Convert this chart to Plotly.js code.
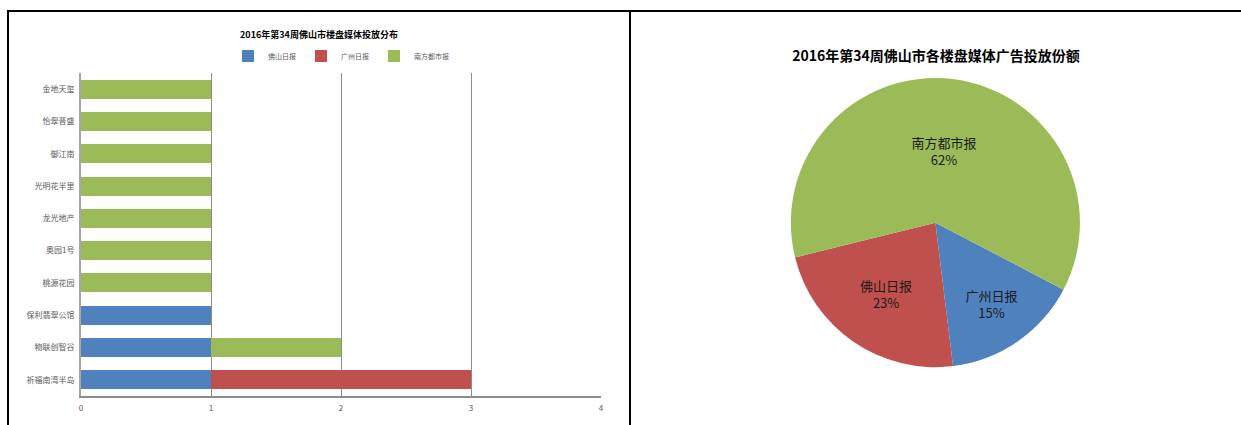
<!DOCTYPE html>
<html>
<head>
<meta charset="utf-8">
<script src="https://cdn.plot.ly/plotly-3.0.1.min.js"></script>
<style>
  html, body { margin: 0; padding: 0; background: #ffffff; width: 1241px; height: 425px; overflow: hidden; }
  #frameTop { position: absolute; left: 7px; top: 10px; width: 1234px; height: 2px; background: #000; }
  #frameLeft { position: absolute; left: 7px; top: 10px; width: 2px; height: 415px; background: #000; }
  #frameMid { position: absolute; left: 629px; top: 10px; width: 2px; height: 415px; background: #000; }
  #barChart { position: absolute; left: 9px; top: 12px; width: 620px; height: 413px; }
  #pieChart { position: absolute; left: 631px; top: 12px; width: 610px; height: 413px; }
</style>
</head>
<body>
<div id="frameTop"></div>
<div id="frameLeft"></div>
<div id="frameMid"></div>
<div id="barChart"></div>
<div id="pieChart"></div>
<script>
// ---- Data ----
const barTitle = "2016年第34周佛山市楼盘媒体投放分布";
const pieTitle = "2016年第34周佛山市各楼盘媒体广告投放份额";

// categories listed top to bottom
const projects = ["金地天玺", "怡翠晋盛", "御江南", "光明花半里", "龙光地产", "奥园1号", "桃源花园", "保利翡翠公馆", "物联创智谷", "祈福南湾半岛"];
const seriesNames = ["佛山日报", "广州日报", "南方都市报"];
const foshanDaily   = [0, 0, 0, 0, 0, 0, 0, 1, 1, 1];
const guangzhouDaily = [0, 0, 0, 0, 0, 0, 0, 0, 0, 2];
const nanfangDaily  = [1, 1, 1, 1, 1, 1, 1, 0, 1, 0];
const xTicks = [0, 1, 2, 3, 4];

const pieLabels = ["佛山日报", "广州日报", "南方都市报"];
const pieValues = [3, 2, 8];

// ---- Styles ----
const FONT = "'Noto Sans CJK SC', 'Noto Sans', sans-serif";
const BLUE = "#4F81BD", RED = "#C0504D", GREEN = "#9BBB59";

const barSeries = [foshanDaily, guangzhouDaily, nanfangDaily];
const barColors = [BLUE, RED, GREEN];
const barTraces = barSeries.map((vals, i) => ({
  type: "bar",
  orientation: "h",
  name: seriesNames[i],
  y: projects,
  x: vals,
  marker: { color: barColors[i], line: { width: 0 } },
  hoverinfo: "x+y+name"
}));

const barLayout = {
  width: 620, height: 413,
  margin: { l: 72, r: 28, t: 61, b: 29 },
  paper_bgcolor: "#ffffff", plot_bgcolor: "#ffffff",
  barmode: "stack",
  bargap: 0.41,
  font: { family: FONT, size: 8, color: "#595959" },
  title: {
    text: barTitle,
    font: { family: FONT, size: 9, color: "#000000", weight: "bold" },
    x: 0.5, xanchor: "center", xref: "container",
    y: 0.944, yanchor: "middle", yref: "container"
  },
  showlegend: true,
  legend: {
    orientation: "h", x: 0.5, xanchor: "center", y: 1.053, yanchor: "middle",
    traceorder: "normal",
    font: { family: FONT, size: 7, color: "#595959" },
    itemwidth: 30, itemsizing: "constant",
    tracegroupgap: 0
  },
  xaxis: {
    range: [0, 4], tickvals: xTicks, ticktext: xTicks.map(String),
    showgrid: true, gridcolor: "#8c8c8c", gridwidth: 1,
    zeroline: false, showline: true, linecolor: "#8c8c8c", linewidth: 1.5,
    ticks: "", ticklabelstandoff: 4, fixedrange: true,
    tickfont: { family: FONT, size: 8, color: "#595959" }
  },
  yaxis: {
    type: "category", categoryorder: "array", categoryarray: projects,
    autorange: "reversed",
    showgrid: false, zeroline: false, showline: true, linecolor: "#a6a6a6", linewidth: 2,
    ticks: "", ticklabelstandoff: 3, fixedrange: true,
    tickfont: { family: FONT, size: 8, color: "#595959" }
  }
};

Plotly.newPlot("barChart", barTraces, barLayout, { displayModeBar: false, staticPlot: true });

const pieTrace = {
  type: "pie",
  labels: pieLabels,
  values: pieValues,
  sort: false,
  direction: "counterclockwise",
  rotation: 173,
  marker: { colors: [RED, BLUE, GREEN], line: { width: 0 } },
  texttemplate: "%{label}<br>%{percent:.0%}",
  textposition: "inside",
  insidetextorientation: "horizontal",
  textfont: { family: FONT, size: 13, color: "#1a1a1a" },
  domain: { x: [0.262, 0.736], y: [0.14, 0.84] },
  showlegend: false,
  hoverinfo: "label+value+percent"
};

const pieLayout = {
  width: 610, height: 413,
  margin: { l: 0, r: 0, t: 0, b: 0 },
  paper_bgcolor: "#ffffff",
  font: { family: FONT, size: 13, color: "#000000" },
  title: {
    text: pieTitle,
    font: { family: FONT, size: 14, color: "#000000", weight: "bold" },
    x: 0.5, xanchor: "center", xref: "container",
    y: 0.893, yanchor: "middle", yref: "container"
  },
  showlegend: false
};

Plotly.newPlot("pieChart", [pieTrace], pieLayout, { displayModeBar: false, staticPlot: true });
</script>
</body>
</html>
